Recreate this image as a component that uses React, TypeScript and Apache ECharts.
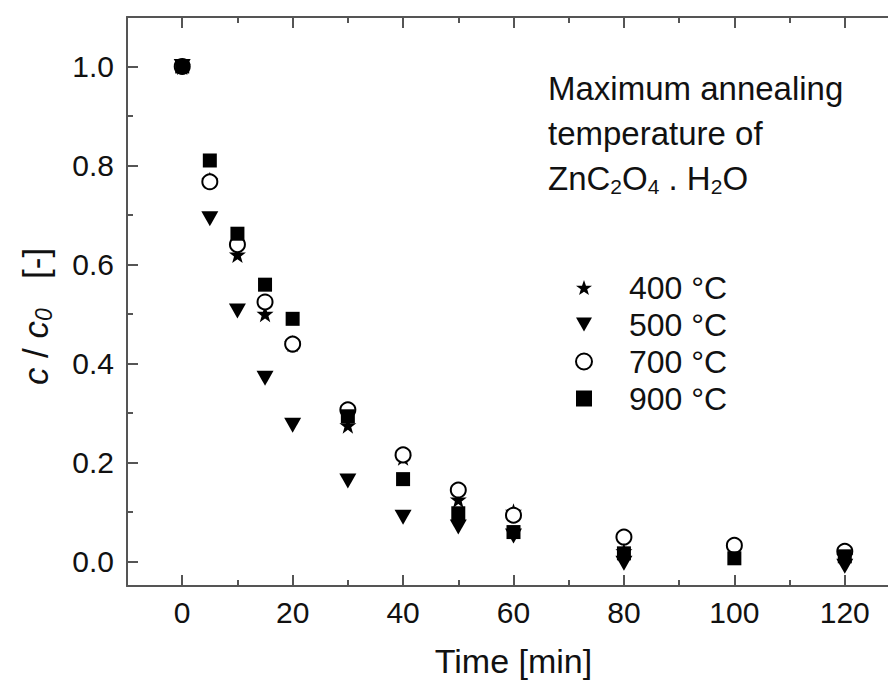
import React, { useEffect, useRef } from "react";
import * as echarts from "echarts";

const times = [0, 5, 10, 15, 20, 30, 40, 50, 60, 80, 100, 120];
const s400 = [1.0, 0.77, 0.62, 0.5, 0.44, 0.275, 0.21, 0.125, 0.1, 0.02, null, 0.01];
const s500 = [1.0, 0.692, 0.506, 0.37, 0.275, 0.162, 0.089, 0.069, 0.051, -0.004, null, -0.01];
const s700 = [1.0, 0.767, 0.64, 0.524, 0.439, 0.306, 0.215, 0.144, 0.093, 0.049, 0.032, 0.02];
const s900 = [1.0, 0.81, 0.662, 0.559, 0.49, 0.293, 0.166, 0.097, 0.059, 0.016, 0.006, 0.01];

const seriesNames = ["400 °C", "500 °C", "700 °C", "900 °C"];
const xMajor = [0, 20, 40, 60, 80, 100, 120];
const xMinor = [-10, 10, 30, 50, 70, 90, 110, 130];
const yMajor = [0, 0.2, 0.4, 0.6, 0.8, 1.0];
const yMinor = [0.1, 0.3, 0.5, 0.7, 0.9];

const FONT = "'Liberation Sans', Arial, Helvetica, sans-serif";
const AX = "#555";
const TXT = "#111";

const STAR =
  "path://M5,0 L6.18,3.45 L9.76,3.45 L6.9,5.6 L7.94,9.05 L5,7 L2.06,9.05 L3.1,5.6 L0.24,3.45 L3.82,3.45 Z";
const TRI_DOWN = "path://M0,0 L10,0 L5,8.7 Z";
const SQUARE = "path://M0,0 L10,0 L10,10 L0,10 Z";
const CIRCLE = "path://M5,0 A5,5 0 1,1 5,10 A5,5 0 1,1 5,0 Z";

function pairs(vals: (number | null)[]) {
  return times.map((t, i) => [t, vals[i]]).filter((p) => p[1] !== null);
}

export default function App() {
  const ref = useRef<HTMLDivElement>(null);
  useEffect(() => {
    document.body.style.margin = "0";
    document.body.style.overflow = "hidden";
    if (!ref.current) return;
    const chart = echarts.init(ref.current, null, { renderer: "svg" });
    const tick = (vals: number[], len: number) => ({
      show: true,
      inside: true,
      length: len,
      customValues: vals,
      lineStyle: { color: AX, width: 2 },
    });
    const line = (show: boolean) => ({ show, onZero: false, lineStyle: { color: AX, width: 2 } });
    const xBase = { type: "value", min: -10, max: 130, gridIndex: 0, splitLine: { show: false } };
    const yBase = { type: "value", min: -0.05, max: 1.1, gridIndex: 0, splitLine: { show: false } };
    const option: any = {
      animation: false,
      backgroundColor: "#fff",
      grid: { left: 127, top: 17, width: 773, height: 569, outerBoundsMode: "none", containLabel: false },
      xAxis: [
        {
          ...xBase,
          position: "bottom",
          axisLine: line(true),
          axisTick: tick(xMajor, 11),
          axisLabel: { customValues: xMajor, fontSize: 30, color: TXT, fontFamily: FONT, margin: 11 },
          name: "Time [min]",
          nameLocation: "middle",
          nameGap: 58,
          nameTextStyle: { fontSize: 34, color: TXT, fontFamily: FONT },
        },
        { ...xBase, position: "bottom", axisLine: line(false), axisTick: tick(xMinor, 6), axisLabel: { show: false } },
        { ...xBase, position: "top", axisLine: line(true), axisTick: tick(xMajor, 11), axisLabel: { show: false } },
        { ...xBase, position: "top", axisLine: line(false), axisTick: tick(xMinor, 6), axisLabel: { show: false } },
      ],
      yAxis: [
        {
          ...yBase,
          position: "left",
          axisLine: line(true),
          axisTick: tick(yMajor, 11),
          axisLabel: {
            customValues: yMajor,
            fontSize: 30,
            color: TXT,
            fontFamily: FONT,
            margin: 13,
            formatter: (v: number) => v.toFixed(1),
          },
          name: "{i|c} / {i|c}{s|0}   [-]",
          nameLocation: "middle",
          nameGap: 72,
          nameRotate: 90,
          nameTextStyle: {
            color: TXT,
            fontFamily: FONT,
            fontSize: 35,
            padding: [0, 30, 0, 0],
            rich: {
              i: { fontSize: 35, fontStyle: "italic", fontFamily: FONT, color: TXT, lineHeight: 40 },
              s: { fontSize: 23, fontStyle: "italic", fontFamily: FONT, color: TXT, lineHeight: 13, verticalAlign: "bottom" },
            },
          },
        },
        { ...yBase, position: "left", axisLine: line(false), axisTick: tick(yMinor, 6), axisLabel: { show: false } },
      ],
      legend: {
        orient: "vertical",
        left: 570,
        top: 264,
        itemWidth: 16,
        itemHeight: 16,
        itemGap: 0,
        textStyle: { fontSize: 32, color: TXT, fontFamily: FONT, padding: [0, 0, 0, 32], lineHeight: 37 },
        data: [
          { name: seriesNames[0], icon: STAR },
          { name: seriesNames[1], icon: TRI_DOWN },
          { name: seriesNames[2], icon: CIRCLE, itemStyle: { color: "#fff", borderColor: "#000", borderWidth: 2, opacity: 1 } },
          { name: seriesNames[3], icon: SQUARE },
        ],
      },
      series: [
        {
          name: seriesNames[0],
          type: "scatter",
          symbol: STAR,
          symbolSize: 17,
          z: 1,
          itemStyle: { color: "#000", opacity: 1 },
          data: pairs(s400),
        },
        {
          name: seriesNames[2],
          type: "scatter",
          symbol: "circle",
          symbolSize: 15,
          z: 2,
          itemStyle: { color: "#fff", borderColor: "#000", borderWidth: 2, opacity: 1 },
          data: pairs(s700),
        },
        {
          name: seriesNames[3],
          type: "scatter",
          symbol: SQUARE,
          symbolSize: 14,
          z: 3,
          itemStyle: { color: "#000", opacity: 1 },
          data: pairs(s900),
        },
        {
          name: seriesNames[1],
          type: "scatter",
          symbol: TRI_DOWN,
          symbolSize: [17, 15],
          z: 4,
          itemStyle: { color: "#000", opacity: 1 },
          data: pairs(s500),
        },
      ],
      graphic: [
        {
          type: "text",
          x: 548,
          y: 88,
          style: { text: "Maximum annealing", font: `33px ${FONT}`, fill: TXT, verticalAlign: "middle" },
        },
        {
          type: "text",
          x: 548,
          y: 133,
          style: { text: "temperature of", font: `33px ${FONT}`, fill: TXT, verticalAlign: "middle" },
        },
        {
          type: "text",
          x: 548,
          y: 159,
          style: {
            text: "{n|ZnC}{s|2}{n|O}{s|4}{n| . H}{s|2}{n|O}",
            fill: TXT,
            rich: {
              n: { fontSize: 33, fontFamily: FONT, color: TXT, lineHeight: 38 },
              s: { fontSize: 21, fontFamily: FONT, color: TXT, lineHeight: 9, verticalAlign: "bottom" },
            },
          },
        },
      ],
    };
    chart.setOption(option);
    return () => chart.dispose();
  }, []);
  return <div ref={ref} style={{ width: 888, height: 687 }} />;
}
